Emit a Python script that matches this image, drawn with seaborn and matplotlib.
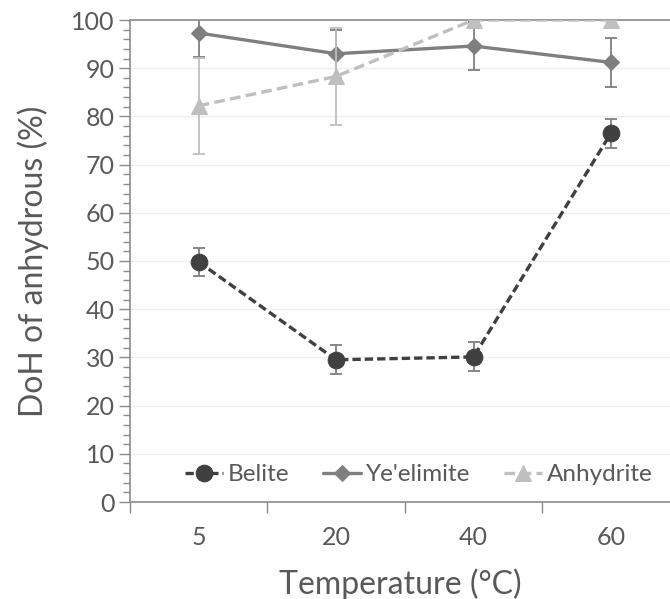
import matplotlib
matplotlib.use("Agg")
import matplotlib.pyplot as plt
from matplotlib.ticker import MultipleLocator, FixedLocator, NullFormatter
import seaborn as sns
import pandas as pd
import numpy as np

temperatures = ["5", "20", "40", "60"]
belite = [49.8, 29.5, 30.1, 76.5]
belite_err = [3.0, 3.0, 3.0, 3.0]
yeelimite = [97.3, 93.0, 94.6, 91.2]
yeelimite_err = [5.0, 5.0, 5.0, 5.0]
anhydrite = [82.2, 88.3, 100.0, 100.0]
anhydrite_err = [10.0, 10.0, 0.0, 0.0]
series_names = ["Belite", "Ye'elimite", "Anhydrite"]

sns.set_theme(style="white")
plt.rcParams["font.family"] = ["Lato", "DejaVu Sans"]

pos = list(range(len(temperatures)))
df = pd.DataFrame({
    "pos": pos * 3,
    "value": belite + yeelimite + anhydrite,
    "err": belite_err + yeelimite_err + anhydrite_err,
    "series": [series_names[0]] * 4 + [series_names[1]] * 4 + [series_names[2]] * 4,
})

colors = {"Belite": "#404040", "Ye'elimite": "#7f7f7f", "Anhydrite": "#bfbfbf"}
markers = {"Belite": "o", "Ye'elimite": "D", "Anhydrite": "^"}
msizes = {"Belite": 12, "Ye'elimite": 8.5, "Anhydrite": 12}
dashes = {"Belite": (2.5, 1.2), "Ye'elimite": (None, None), "Anhydrite": (3.2, 1.6)}
zorders = {"Belite": 5, "Ye'elimite": 3, "Anhydrite": 4}

fig = plt.figure(figsize=(6.7, 5.99), dpi=100)
ax = fig.add_axes([130 / 670, 1 - 502 / 599, 540 / 670, 482 / 599])

for name in ["Ye'elimite", "Anhydrite", "Belite"]:
    sub = df[df["series"] == name]
    ax.errorbar(sub["pos"], sub["value"], yerr=sub["err"], fmt="none",
                ecolor=colors[name] if name != "Belite" else "#7f7f7f",
                elinewidth=1.3, capsize=4, capthick=1.3, zorder=zorders[name] - 0.5)
    kw = dict(linewidth=2.4, color=colors[name], marker=markers[name],
              markersize=msizes[name], markeredgecolor=colors[name],
              zorder=zorders[name], label=name)
    if dashes[name][0] is not None:
        kw["dashes"] = dashes[name]
    sns.lineplot(data=sub, x="pos", y="value", ax=ax, estimator=None,
                 errorbar=None, legend=False, **kw)

ax.set_xlim(-0.5, 3.43)
ax.set_ylim(0, 100)
ax.yaxis.set_major_locator(MultipleLocator(10))
ax.yaxis.set_minor_locator(MultipleLocator(2))
ax.xaxis.set_major_locator(FixedLocator([-0.5, 0.5, 1.5, 2.5, 3.5]))
ax.xaxis.set_major_formatter(NullFormatter())
ax.xaxis.set_minor_locator(FixedLocator(pos))
ax.set_xticklabels(temperatures, minor=True)

tc = "#595959"
ax.tick_params(axis="y", which="major", length=8, width=1, color="#8c8c8c",
               labelsize=18, labelcolor=tc, left=True, direction="out", pad=3)
ax.tick_params(axis="y", which="minor", length=5, width=1, color="#8c8c8c",
               left=True, direction="out")
ax.tick_params(axis="x", which="major", length=8, width=1, color="#8c8c8c",
               bottom=True, direction="out")
ax.tick_params(axis="x", which="minor", length=0, labelsize=18,
               labelcolor=tc, pad=17)

ax.grid(axis="y", which="major", color="#efefef", linewidth=1)
ax.set_axisbelow(True)
for s in ["left", "bottom", "top"]:
    ax.spines[s].set_color("#8c8c8c")
    ax.spines[s].set_linewidth(1.2)
ax.spines["right"].set_visible(False)

ax.set_xlabel("Temperature (°C)", fontsize=23, color=tc, labelpad=14)
ax.set_ylabel("DoH of anhydrous (%)", fontsize=23, color=tc, labelpad=16)

handles, labels = ax.get_legend_handles_labels()
order = [labels.index(n) for n in series_names]
leg = ax.legend(handles=[handles[i] for i in order], labels=[labels[i] for i in order],
                loc="center", bbox_to_anchor=(0.535, 0.057), ncol=3, frameon=False,
                fontsize=17.5, handlelength=1.55, handletextpad=0.2, columnspacing=1.4,
                labelcolor=tc)

fig.savefig("out.png", dpi=100)
